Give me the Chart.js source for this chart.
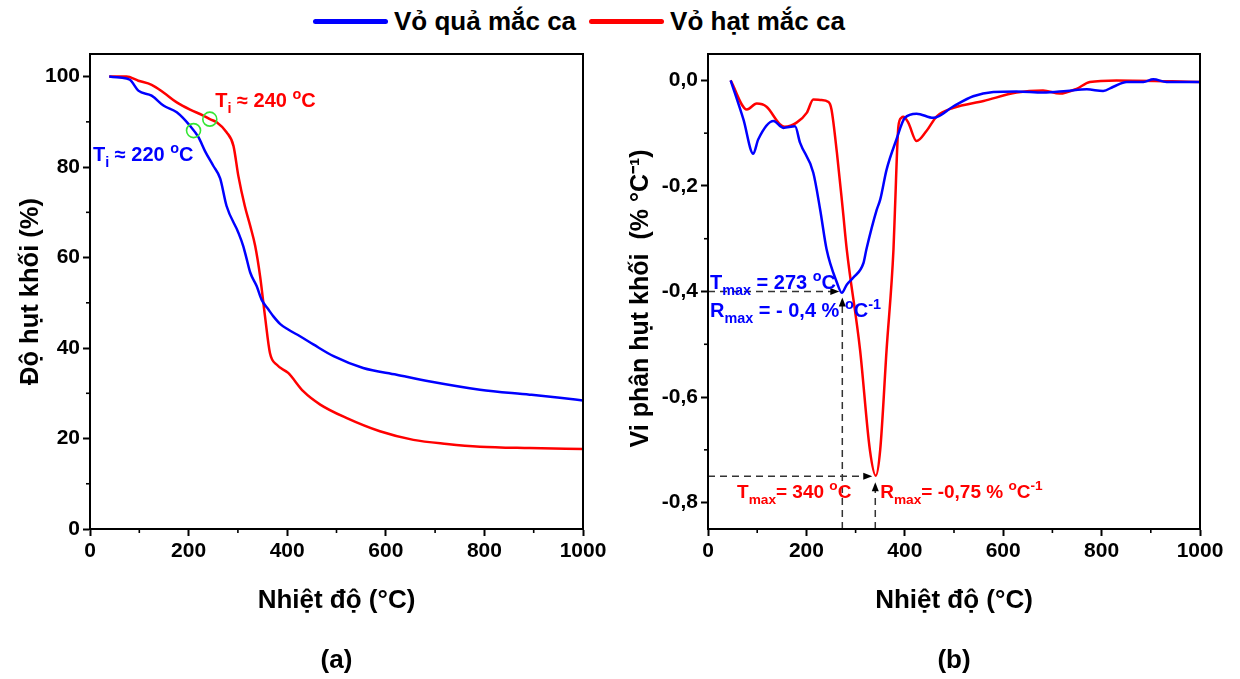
<!DOCTYPE html>
<html>
<head>
<meta charset="utf-8">
<script src="https://cdn.jsdelivr.net/npm/chart.js@4.4.1/dist/chart.umd.min.js"></script>
<style>
  html, body { margin:0; padding:0; background:#fff; }
  #wrap { position:relative; width:1240px; height:679px; overflow:hidden; font-family:"Liberation Sans", Arial, sans-serif; }
  canvas { position:absolute; top:0; }
  #legend { position:absolute; top:4px; left:313px; height:34px; display:flex; align-items:center; font-weight:bold; font-size:26px; color:#000; white-space:nowrap; }
  .sw { display:inline-block; width:75px; height:5px; border-radius:3px; margin-right:6px; }
</style>
</head>
<body>
<div id="wrap">
  <div id="legend">
    <span class="sw" style="background:#0000FF"></span><span>Vỏ quả mắc ca</span>
    <span class="sw" style="background:#FF0000;margin-left:13px"></span><span>Vỏ hạt mắc ca</span>
  </div>
  <canvas id="c1" width="620" height="679" style="left:0"></canvas>
  <canvas id="c2" width="620" height="679" style="left:620px"></canvas>
</div>
<script>
// ---------- DATA ----------
const seriesNames = ['Vỏ quả mắc ca', 'Vỏ hạt mắc ca'];

// (a) TGA: mass (%) vs temperature (°C)
const tgaQuaT = [39,60,81,98,125,149,176,203,220,233,250,264,277,301,311,318,325,338,348,362,372,386,402,426,453,494,554,622,690,791,892,953,1000];
const tgaQuaM = [100,99.8,99.3,96.9,95.8,93.6,92.1,89.1,86.6,83.6,80.3,77.5,71.4,65.5,62.5,59.6,56.7,53.7,50.7,48.5,47,45.3,44.1,42.6,40.8,38.2,35.6,34.1,32.6,30.8,29.7,29,28.4];
const tgaHatT = [39,74,98,125,149,176,203,230,243,257,277,291,301,314,325,335,345,355,365,379,402,433,467,521,588,656,724,791,892,1000];
const tgaHatM = [100,100,99.1,98.2,96.5,94.3,92.7,91.4,90.6,89.9,87.7,84.7,78,71.4,67,62.6,55.9,47,38.9,36.3,34.5,30.4,27.5,24.5,21.6,19.7,18.8,18.2,17.9,17.7];

// (b) DTG: rate (% °C-1) vs temperature (°C)
const dtgQuaT = [46,72,92,102,133,153,177,187,214,228,241,262,272,282,295,316,322,343,350,363,383,400,424,458,499,539,580,627,681,729,770,803,824,851,885,905,932,1000];
const dtgQuaV = [0,-0.074,-0.139,-0.112,-0.077,-0.090,-0.087,-0.118,-0.175,-0.245,-0.32,-0.383,-0.4025,-0.387,-0.374,-0.346,-0.32,-0.245,-0.226,-0.169,-0.112,-0.071,-0.063,-0.071,-0.049,-0.030,-0.022,-0.021,-0.023,-0.020,-0.017,-0.020,-0.012,-0.003,-0.003,0.002,-0.003,-0.003];
const dtgHatT = [46,79,99,119,146,156,180,201,214,228,245,251,262,274,282,309,329,341,350,363,377,380,387,393,397,407,424,444,465,499,560,627,681,715,749,776,830,1000];
const dtgHatV = [0,-0.055,-0.044,-0.050,-0.083,-0.088,-0.080,-0.061,-0.036,-0.037,-0.041,-0.055,-0.137,-0.245,-0.32,-0.51,-0.70,-0.749,-0.70,-0.51,-0.32,-0.245,-0.087,-0.071,-0.069,-0.080,-0.115,-0.096,-0.068,-0.052,-0.039,-0.023,-0.019,-0.025,-0.016,-0.003,0,-0.003];

// axis ranges / ticks
const xRange = [0, 1000], xStep = 200;
const tgaRange = [0, 105], tgaStep = 20;
const dtgRange = [-0.85, 0.05], dtgStep = 0.2;

// annotation values
const tiQua = 220, tiHat = 240;
const tmaxQua = 273, rmaxQua = -0.40;
const tmaxHat = 340, rmaxHat = -0.75;

// ---------- HELPERS ----------
const FONT = '"Liberation Sans", Arial, sans-serif';
const BLUE = '#0000FF', RED = '#FF0000';
const pts = (xs, ys) => xs.map((x, i) => ({x, y: ys[i]}));

function drawRich(ctx, x, y, parts, size, color) {
  ctx.save();
  ctx.fillStyle = color; ctx.textAlign = 'left'; ctx.textBaseline = 'alphabetic';
  let cx = x;
  for (const p of parts) {
    const s = (p.sub || p.sup) ? size * 0.72 : size;
    ctx.font = `bold ${s}px ${FONT}`;
    const dy = p.sub ? size * 0.28 : p.sup ? -size * 0.42 : 0;
    ctx.fillText(p.t, cx, y + dy);
    cx += ctx.measureText(p.t).width;
  }
  ctx.restore();
}
function arrowHead(ctx, x, y, dir) {
  const L = 9, W = 3.5;
  ctx.beginPath();
  if (dir === 'right') { ctx.moveTo(x, y); ctx.lineTo(x - L, y - W); ctx.lineTo(x - L, y + W); }
  else { ctx.moveTo(x, y); ctx.lineTo(x - W, y + L); ctx.lineTo(x + W, y + L); }
  ctx.closePath(); ctx.fill();
}

const frame = {
  id: 'frame',
  afterDraw(chart) {
    const {ctx, chartArea: a} = chart;
    ctx.save();
    ctx.strokeStyle = '#000'; ctx.lineWidth = 2;
    ctx.strokeRect(a.left, a.top, a.right - a.left, a.bottom - a.top);
    // minor ticks
    ctx.lineWidth = 1.6;
    for (const id of ['x', 'y']) {
      const s = chart.scales[id];
      const tv = s.ticks.map(t => t.value);
      const step = tv[1] - tv[0];
      for (let v = tv[0] - step / 2; v <= s.max + 1e-9; v += step) {
        if (v < s.min - 1e-9) continue;
        const p = s.getPixelForValue(v);
        ctx.beginPath();
        if (id === 'x') { ctx.moveTo(p, a.bottom); ctx.lineTo(p, a.bottom + 4); }
        else { ctx.moveTo(a.left, p); ctx.lineTo(a.left - 4, p); }
        ctx.stroke();
      }
    }
    // panel label
    ctx.fillStyle = '#000'; ctx.font = `bold 26px ${FONT}`;
    ctx.textAlign = 'center'; ctx.textBaseline = 'middle';
    ctx.fillText(chart.options.plugins.frame.label, (a.left + a.right) / 2, 661);
    ctx.restore();
  }
};

function axisCommon(min, max, step, fmt) {
  return {
    type: 'linear', min, max,
    ticks: { stepSize: step, includeBounds: false, color: '#000', font: {family: FONT, size: 21, weight: 'bold'}, padding: 3, maxRotation: 0, callback: fmt },
    grid: { drawOnChartArea: false, drawTicks: true, tickLength: 7, tickWidth: 2, tickColor: '#000' },
    border: { display: true, color: '#000', width: 2 }
  };
}

// ---------- CHART (a) ----------
const annoA = {
  id: 'annoA',
  afterDatasetsDraw(chart) {
    const {ctx} = chart, x = chart.scales.x, y = chart.scales.y;
    const ring = (T, arr, arrT) => {
      let i = arrT.findIndex(t => t >= T); if (i < 1) i = 1;
      const t0 = arrT[i-1], t1 = arrT[i], m0 = arr[i-1], m1 = arr[i];
      const m = m0 + (m1 - m0) * (T - t0) / (t1 - t0);
      ctx.save(); ctx.strokeStyle = '#33E633'; ctx.lineWidth = 1.6;
      ctx.beginPath(); ctx.arc(x.getPixelForValue(T), y.getPixelForValue(m), 7, 0, Math.PI * 2); ctx.stroke();
      ctx.restore();
    };
    ring(210, tgaQuaM, tgaQuaT);
    ring(243, tgaHatM, tgaHatT);
    drawRich(ctx, x.getPixelForValue(254), y.getPixelForValue(93.2),
      [{t:'T'},{t:'i',sub:true},{t:' ≈ ' + tiHat + ' '},{t:'o',sup:true},{t:'C'}], 20, RED);
    drawRich(ctx, x.getPixelForValue(6), y.getPixelForValue(81.3),
      [{t:'T'},{t:'i',sub:true},{t:' ≈ ' + tiQua + ' '},{t:'o',sup:true},{t:'C'}], 20, BLUE);
  }
};

const xA = axisCommon(xRange[0], xRange[1], xStep);
xA.title = { display: true, text: 'Nhiệt độ (°C)', color: '#000', font: {family: FONT, size: 26, weight: 'bold'}, padding: {top: 0, bottom: 63} };
xA.afterFit = s => { s.height = 150; };
const yA = axisCommon(tgaRange[0], tgaRange[1], tgaStep);
yA.title = { display: true, text: 'Độ hụt khối (%)', color: '#000', font: {family: FONT, size: 25.5, weight: 'bold'}, padding: {top: 16, bottom: 0} };
yA.afterFit = s => { s.width = 90; };

new Chart(document.getElementById('c1'), {
  type: 'line',
  data: { datasets: [
    { label: seriesNames[0], data: pts(tgaQuaT, tgaQuaM), borderColor: BLUE, borderWidth: 2.5, pointRadius: 0, cubicInterpolationMode: 'monotone', fill: false },
    { label: seriesNames[1], data: pts(tgaHatT, tgaHatM), borderColor: RED, borderWidth: 2.5, pointRadius: 0, cubicInterpolationMode: 'monotone', fill: false }
  ]},
  options: {
    responsive: false, animation: false, devicePixelRatio: 1,
    layout: { padding: {left: 0, right: 37, top: 54, bottom: 0} },
    plugins: { legend: {display: false}, tooltip: {enabled: false}, frame: {label: '(a)'} },
    scales: { x: xA, y: yA }
  },
  plugins: [frame, annoA]
});

// ---------- CHART (b) ----------
const commaFmt = v => (Math.abs(v) < 1e-9 ? 0 : v).toFixed(1).replace('.', ',');
const annoB = {
  id: 'annoB',
  afterDatasetsDraw(chart) {
    const {ctx, chartArea: a} = chart, x = chart.scales.x, y = chart.scales.y;
    ctx.save();
    ctx.strokeStyle = '#333'; ctx.fillStyle = '#000'; ctx.lineWidth = 1.5;
    const marks = [[tmaxQua, rmaxQua], [tmaxHat, rmaxHat]];
    for (const [T, R] of marks) {
      const px = x.getPixelForValue(T), py = y.getPixelForValue(R);
      ctx.setLineDash([7, 5]);
      ctx.beginPath(); ctx.moveTo(a.left, py); ctx.lineTo(px - 10, py); ctx.stroke();
      ctx.beginPath(); ctx.moveTo(px, a.bottom); ctx.lineTo(px, py + 14); ctx.stroke();
      ctx.setLineDash([]);
      arrowHead(ctx, px - 3, py, 'right');
      arrowHead(ctx, px, py + 6, 'up');
    }
    ctx.restore();
    drawRich(ctx, x.getPixelForValue(4), y.getPixelForValue(-0.396),
      [{t:'T'},{t:'max',sub:true},{t:' = ' + tmaxQua + ' '},{t:'o',sup:true},{t:'C'}], 20, BLUE);
    drawRich(ctx, x.getPixelForValue(4), y.getPixelForValue(-0.449),
      [{t:'R'},{t:'max',sub:true},{t:' = - ' + String(Math.abs(rmaxQua)).replace('.', ',') + ' % '},{t:'o',sup:true},{t:'C'},{t:'-1',sup:true}], 20, BLUE);
    drawRich(ctx, x.getPixelForValue(59), y.getPixelForValue(-0.792),
      [{t:'T'},{t:'max',sub:true},{t:'= ' + tmaxHat + ' '},{t:'o',sup:true},{t:'C'}], 19, RED);
    drawRich(ctx, x.getPixelForValue(350), y.getPixelForValue(-0.792),
      [{t:'R'},{t:'max',sub:true},{t:'= -' + String(Math.abs(rmaxHat)).replace('.', ',') + ' % '},{t:'o',sup:true},{t:'C'},{t:'-1',sup:true}], 19, RED);
  }
};

const xB = axisCommon(xRange[0], xRange[1], xStep);
xB.title = { display: true, text: 'Nhiệt độ (°C)', color: '#000', font: {family: FONT, size: 26, weight: 'bold'}, padding: {top: 0, bottom: 63} };
xB.afterFit = s => { s.height = 150; };
const yB = axisCommon(dtgRange[0], dtgRange[1], dtgStep, commaFmt);
yB.title = { display: true, text: 'Vi phân hụt khối  (% °C⁻¹)  ', color: '#000', font: {family: FONT, size: 25, weight: 'bold'}, padding: {top: 6, bottom: 0} };
yB.afterFit = s => { s.width = 88; };

new Chart(document.getElementById('c2'), {
  type: 'line',
  data: { datasets: [
    { label: seriesNames[0], data: pts(dtgQuaT, dtgQuaV), borderColor: BLUE, borderWidth: 2.5, pointRadius: 0, cubicInterpolationMode: 'monotone', fill: false },
    { label: seriesNames[1], data: pts(dtgHatT, dtgHatV), borderColor: RED, borderWidth: 2.5, pointRadius: 0, cubicInterpolationMode: 'monotone', fill: false }
  ]},
  options: {
    responsive: false, animation: false, devicePixelRatio: 1,
    layout: { padding: {left: 0, right: 40, top: 54, bottom: 0} },
    plugins: { legend: {display: false}, tooltip: {enabled: false}, frame: {label: '(b)'} },
    scales: { x: xB, y: yB }
  },
  plugins: [frame, annoB]
});
</script>
</body>
</html>
